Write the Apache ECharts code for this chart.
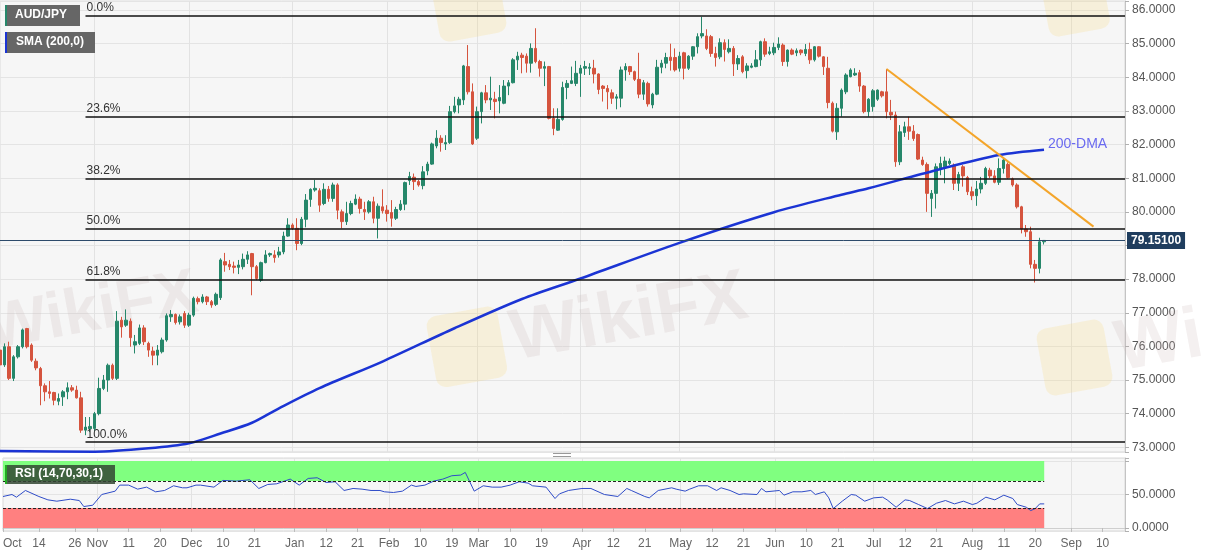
<!DOCTYPE html>
<html><head><meta charset="utf-8">
<script src="https://cdn.jsdelivr.net/npm/echarts@6/dist/echarts.min.js"></script>
<style>html,body{margin:0;padding:0;background:#fff;}#c{width:1207px;height:555px;}</style>
</head><body><div id="c"></div>
<script>
// ---- OHLC data per month: [open, close, low, high] ----
const ohlcOct2020 = [
[75.89,75.45,75.00,76.00],[75.45,75.99,75.39,76.09],[75.99,75.05,75.00,76.14],[75.05,75.69,74.97,75.74],[75.69,75.99,75.64,76.04],
[75.99,76.49,75.94,76.53],[76.53,75.99,75.94,76.55],[76.04,75.59,75.54,76.09],[75.56,75.36,75.29,75.64],[75.34,74.83,74.25,75.39],
[74.83,74.65,74.37,74.90],[74.65,74.60,74.45,74.97],[74.63,74.40,74.25,74.65],[74.37,74.45,74.25,74.60],[74.50,74.65,74.23,74.70],
[74.65,74.77,74.43,74.93],[74.77,74.70,74.65,74.85],[74.70,74.47,74.45,74.83],[74.47,73.51,73.43,74.65],[73.51,73.60,73.36,73.90],
[73.55,73.62,73.45,73.90]];
const ohlcNov2020 = [
[73.56,74.00,73.48,74.05],[74.00,74.75,73.95,75.07],[74.75,75.00,74.70,75.15],[75.00,75.44,74.65,75.49],[75.44,75.05,75.00,75.49],
[75.05,76.75,75.00,77.05],[76.78,76.58,76.26,76.88],[76.63,76.78,76.58,77.10],[76.75,76.26,75.99,76.83],[76.04,76.14,75.79,76.34],
[76.09,76.55,76.04,76.65],[76.55,76.14,76.04,76.63],[76.09,75.89,75.69,76.14],[75.86,75.74,75.44,75.99],[75.74,75.89,75.44,76.04],
[75.84,76.19,75.79,76.26],[76.19,76.91,76.14,76.98],[76.88,76.95,76.73,77.08],[76.95,76.71,76.65,76.98],[76.73,76.88,76.65,76.95],
[76.98,76.63,76.55,77.05]];
const ohlcDec2020 = [
[76.63,76.93,76.58,77.00],[76.93,77.43,76.88,77.48],[77.42,77.33,77.25,77.48],[77.33,77.47,77.28,77.55],[77.47,77.33,77.23,77.50],
[77.33,77.23,77.15,77.38],[77.25,77.55,77.20,77.60],[77.45,78.57,77.38,78.62],[78.52,78.42,78.22,78.78],[78.44,78.37,78.27,78.57],
[78.39,78.35,78.17,78.52],[78.35,78.42,78.15,78.57],[78.37,78.59,78.29,78.76],[78.59,78.72,78.45,78.83],[78.76,78.37,77.52,78.78],
[78.37,78.02,77.97,78.42],[77.97,78.49,77.92,78.52],[78.49,78.72,78.47,78.86],[78.72,78.76,78.66,78.79],[78.72,78.64,78.49,78.86],
[78.72,78.81,78.64,78.96],[78.81,79.28,78.74,79.41],[79.28,79.61,79.26,79.81]];
const ohlcJan2021 = [
[79.61,79.51,79.46,79.66],[79.51,79.06,78.86,79.81],[79.06,79.78,79.01,79.85],[79.78,80.35,79.54,80.53],[80.37,80.67,80.15,80.70],
[80.65,80.70,80.60,80.95],[80.63,80.20,80.00,80.70],[80.25,80.67,80.20,80.85],[80.67,80.40,80.30,80.77],[80.40,80.80,80.30,80.87],
[80.80,80.05,79.78,80.85],[80.00,79.71,79.51,80.07],[79.71,79.95,79.61,80.30],[79.95,80.25,79.90,80.33],[80.23,80.38,80.20,80.52],
[80.38,80.10,79.95,80.45],[80.07,80.00,79.76,80.30],[80.00,80.30,79.95,80.35],[80.30,79.81,79.66,80.45],[79.81,80.17,79.21,80.25],
[80.15,80.03,79.95,80.67]];
const ohlcFeb2021 = [
[80.05,79.95,79.71,80.20],[79.98,79.81,79.56,80.35],[79.81,80.07,79.76,80.15],[80.07,80.23,80.03,80.35],[80.23,80.87,80.05,80.90],
[80.93,81.05,80.80,81.19],[81.03,80.90,80.65,81.14],[80.90,80.80,80.75,80.95],[80.78,81.19,80.67,81.36],[81.22,81.42,81.09,81.49],
[81.42,82.02,81.40,82.06],[81.96,82.19,81.89,82.43],[82.19,82.06,81.79,82.28],[82.02,82.06,81.84,82.28],[82.06,82.98,82.02,83.15],
[82.98,83.15,82.93,83.42],[83.18,83.35,82.93,83.42],[83.33,84.34,83.18,84.37],[84.32,83.57,83.49,84.96],[83.57,82.02,81.99,83.82]];
const ohlcMar2021 = [
[82.19,82.98,82.14,83.13],[82.98,83.54,82.63,83.57],[83.54,83.33,83.23,83.77],[83.33,83.38,83.03,84.02],[83.35,83.28,82.78,83.57],
[83.30,83.40,82.93,83.77],[83.23,83.74,83.20,83.92],[83.74,83.84,83.47,83.92],[83.84,84.52,83.82,84.57],[84.52,84.63,84.22,84.76],
[84.66,84.59,84.12,84.73],[84.63,84.42,84.14,84.71],[84.42,84.86,84.14,85.01],[84.86,84.47,84.42,85.46],[84.47,84.27,84.02,84.52],
[84.27,84.32,83.74,84.47],[84.32,82.78,82.75,84.34],[82.78,82.48,82.28,83.08],[82.43,82.75,82.41,83.08],[82.75,83.70,82.71,83.87],
[83.70,83.82,83.35,83.92],[83.82,83.90,83.80,84.32],[83.82,84.12,83.74,84.49]];
const ohlcApr2021 = [
[84.12,84.27,83.42,84.37],[84.27,84.32,84.07,84.49],[84.27,84.30,84.07,84.42],[84.27,84.10,83.82,84.52],[84.10,83.64,83.50,84.12],
[83.74,83.67,83.28,83.77],[83.67,83.57,83.05,83.77],[83.54,83.38,83.21,83.64],[83.38,83.42,83.05,83.50],[83.38,84.22,83.11,84.32],
[84.22,84.32,83.90,84.42],[84.32,84.17,84.07,84.34],[84.17,83.94,83.89,84.20],[83.94,83.50,83.38,84.73],[83.50,83.84,83.33,83.92],
[83.82,83.21,83.13,83.87],[83.18,83.50,83.08,83.54],[83.50,84.30,83.47,84.52],[84.30,84.42,84.12,84.52],[84.42,84.59,84.27,84.73],
[84.60,84.50,84.20,85.00],[84.59,84.22,84.17,84.86]];
const ohlcMay2021 = [
[84.27,84.63,84.17,84.76],[84.73,84.27,83.94,84.76],[84.27,84.63,84.22,84.66],[84.63,84.91,84.52,84.93],[84.91,85.21,84.71,85.31],
[85.23,85.30,85.16,85.80],[85.23,84.86,84.81,85.43],[85.21,84.71,84.61,85.26],[84.71,84.59,84.32,84.91],[84.61,85.03,84.54,85.16],
[85.03,84.83,84.47,85.13],[84.76,84.86,84.71,85.13],[84.86,84.40,84.04,84.93],[84.40,84.56,84.22,84.66],[84.61,84.17,84.12,84.66],
[84.20,84.34,83.97,84.42],[84.30,84.34,84.27,84.42],[84.32,84.52,84.30,84.81],[84.52,85.06,84.34,85.09],[85.06,84.69,84.61,85.16],
[84.71,84.76,84.66,84.91]];
const ohlcJun2021 = [
[84.73,84.89,84.66,85.03],[84.89,84.99,84.81,85.19],[84.96,84.47,84.34,85.01],[84.47,84.81,84.32,84.83],[84.81,84.69,84.66,84.86],
[84.73,84.79,84.63,84.86],[84.81,84.73,84.66,84.83],[84.71,84.83,84.63,84.99],[84.83,84.52,84.40,85.03],[84.52,84.91,84.47,84.93],
[84.91,84.63,84.59,84.93],[84.61,84.32,84.07,84.63],[84.27,83.25,83.08,84.61],[83.23,82.40,82.36,83.28],[82.38,83.08,82.14,83.23],
[83.08,83.62,82.83,83.67],[83.57,84.07,83.50,84.12],[84.02,84.22,84.00,84.27],[84.07,84.12,84.04,84.27],[84.14,83.74,83.57,84.22],
[83.74,82.98,82.93,83.77],[82.98,83.35,82.83,83.38]];
const ohlcJul2021 = [
[83.13,83.60,82.98,83.65],[83.35,83.62,83.30,83.64],[83.57,83.45,83.40,83.60],[83.57,82.98,82.78,84.25],[82.96,82.88,82.73,83.33],
[82.88,81.49,81.34,82.98],[81.49,82.38,81.39,82.58],[82.36,82.53,82.23,82.68],[82.53,82.40,82.14,82.83],[82.40,82.18,82.11,82.58],
[82.30,81.57,81.54,82.33],[81.54,81.41,81.37,81.64],[81.41,80.55,80.00,81.47],[80.40,80.55,79.85,80.65],[80.55,81.34,80.10,81.44],
[81.29,81.44,81.09,81.64],[81.34,81.51,80.85,81.64],[81.44,81.51,81.39,81.59],[81.39,80.85,80.65,81.44],[80.85,81.11,80.62,81.19],
[81.34,81.07,80.75,81.39],[81.02,80.60,80.50,81.07]];
const ohlcAug2021 = [
[80.60,80.48,80.35,80.75],[80.48,80.68,80.18,80.92],[80.68,80.85,80.55,81.04],[80.85,81.29,80.80,81.34],[81.24,81.07,81.00,81.31],
[81.07,80.88,80.85,81.24],[80.88,81.29,80.80,81.59],[81.29,81.54,81.14,81.59],[81.41,81.02,80.98,81.47],[80.98,80.80,80.75,81.02],
[80.80,80.15,80.10,80.85],[80.15,79.49,79.36,80.18],[79.49,79.41,79.26,79.61],[79.41,78.44,78.32,79.56],[78.44,78.32,77.90,78.57],
[78.32,79.11,78.17,79.23],[79.11,79.151,79.03,79.16]];

// 200-day SMA: [trading-day index, value]
const sma200 = [[0,72.89],[21,72.87],[33,72.97],[42,73.12],[49,73.41],[56,73.73],[62,74.16],[71,74.76],[85,75.55],
[101,76.54],[116,77.41],[129,78.02],[151,79.08],[172,79.99],[187,80.51],[193,80.70],[208,81.24],[222,81.69],[232,81.85]];

// RSI(14): [trading-day index, value]
const rsi14 = [[0,47],[2,50],[3,46],[5,56],[8,47],[10,42],[12,40],[15,43],[17,41],[18,32],[20,34],[22,50],[25,55],[26,64],
[28,64],[30,58],[32,61],[34,54],[36,56],[38,63],[40,60],[41,60],[43,64],[44,64],[47,61],[49,71],[52,70],[55,72],[57,59],
[59,65],[61,66],[64,73],[66,64],[68,74],[70,75],[72,68],[74,69],[76,56],[78,59],[80,58],[82,56],[84,56],[85,54],[87,53],
[89,55],[91,64],[92,62],[94,64],[96,70],[98,73],[100,78],[102,79],[103,83],[105,55],[107,63],[109,61],[111,61],[113,64],
[115,69],[117,67],[118,63],[121,61],[123,44],[124,51],[126,56],[129,59],[131,59],[134,50],[137,47],[139,59],[140,56],
[143,47],[144,45],[146,56],[149,60],[150,58],[152,55],[153,58],[155,63],[157,63],[159,56],[160,60],[162,56],[164,50],
[165,51],[168,50],[169,59],[170,54],[173,56],[174,49],[176,54],[178,54],[180,56],[181,50],[183,54],[184,45],[185,29],
[187,40],[189,50],[190,49],[192,40],[194,45],[196,46],[197,42],[199,31],[201,42],[202,41],[204,35],[206,29],[208,37],
[210,41],[212,36],[214,40],[216,35],[217,37],[219,46],[221,42],[223,49],[225,44],[226,35],[228,31],[229,26],[230,29],
[231,36],[232,36]];

// Fibonacci retracement levels
const fibLabels = ['0.0%','23.6%','38.2%','50.0%','61.8%','100.0%'];
const fibValues = [85.82,82.83,80.98,79.49,77.99,73.15];
const fibStartDate = '2020-10-29';

// Falling trend line endpoints [date, value]
const trendLine = [['2021-07-06',84.25],['2021-09-08',79.56]];
const lastPrice = 79.151;

// x axis tick labels
const tickLabels = [['2020-10-02','Oct'],['2020-10-14','14'],['2020-10-26','26'],['2020-11-02','Nov'],['2020-11-11','11'],
['2020-11-20','20'],['2020-12-01','Dec'],['2020-12-10','10'],['2020-12-21','21'],['2021-01-01','Jan'],['2021-01-12','12'],
['2021-01-21','21'],['2021-02-01','Feb'],['2021-02-10','10'],['2021-02-19','19'],['2021-03-01','Mar'],['2021-03-10','10'],
['2021-03-19','19'],['2021-04-01','Apr'],['2021-04-12','12'],['2021-04-21','21'],['2021-05-03','May'],['2021-05-12','12'],
['2021-05-21','21'],['2021-06-01','Jun'],['2021-06-10','10'],['2021-06-21','21'],['2021-07-01','Jul'],['2021-07-12','12'],
['2021-07-21','21'],['2021-08-02','Aug'],['2021-08-11','11'],['2021-08-20','20'],['2021-09-01','Sep'],['2021-09-10','10']];
const monthStarts = ['2020-11-02','2020-12-01','2021-01-01','2021-02-01','2021-03-01','2021-04-01','2021-05-03',
'2021-06-01','2021-07-01','2021-08-02','2021-09-01'];

// ---- build categories (weekdays) ----
const categories = [];
(function(){
  const d = new Date(Date.UTC(2020,9,2));
  while (categories.length < 251) {
    const w = d.getUTCDay();
    if (w !== 0 && w !== 6) categories.push(d.toISOString().slice(0,10));
    d.setUTCDate(d.getUTCDate()+1);
  }
})();
const candles = [].concat(ohlcOct2020, ohlcNov2020, ohlcDec2020, ohlcJan2021, ohlcFeb2021, ohlcMar2021,
  ohlcApr2021, ohlcMay2021, ohlcJun2021, ohlcJul2021, ohlcAug2021);
const lastCat = categories[candles.length-1];
const endCat = categories[categories.length-1];
const tickMap = Object.fromEntries(tickLabels);
const monthSet = new Set(monthStarts);

const GREEN = '#26876a', RED = '#d5543e';
const FONT = 'Liberation Sans, Arial, sans-serif';

const chart = echarts.init(document.getElementById('c'), null, {renderer:'canvas'});

const fibMarks = fibValues.map((v,k) => [
  {coord:[fibStartDate, v], name: fibLabels[k]},
  {coord:[endCat, v]}
]);

const WM = 'rgba(200,180,180,0.2)', WMY = 'rgba(250,215,110,0.2)';

const option = {
  animation: false,
  backgroundColor: '#ffffff',
  textStyle: {fontFamily: FONT},
  grid: [
    {left:0, top:1, width:1125, height:451, show:true, backgroundColor:'#f6f6f6', borderColor:'#d9d9d9', borderWidth:1},
    {left:0, top:458, width:1125, height:73, show:true, backgroundColor:'#f6f6f6', borderColor:'#d9d9d9', borderWidth:1}
  ],
  xAxis: [
    {type:'category', gridIndex:0, data:categories, boundaryGap:false,
     axisLine:{show:false}, axisTick:{show:false}, axisLabel:{show:false},
     splitLine:{show:true, interval:(i,v)=>monthSet.has(v), lineStyle:{color:'#e2e2e2', width:1}}},
    {type:'category', gridIndex:1, data:categories, boundaryGap:false,
     axisLine:{show:true, lineStyle:{color:'#cfcfcf'}},
     axisTick:{show:true, interval:(i,v)=>tickMap[v]!==undefined, length:4, lineStyle:{color:'#bdbdbd'}},
     axisLabel:{show:true, interval:(i,v)=>tickMap[v]!==undefined, formatter:v=>tickMap[v]||'',
       color:'#666', fontSize:12, fontFamily:FONT, margin:7, alignMinLabel:'left'},
     splitLine:{show:true, interval:(i,v)=>monthSet.has(v), lineStyle:{color:'#e2e2e2', width:1}}}
  ],
  yAxis: [
    {type:'value', gridIndex:0, position:'right', min:72.86, max:86.27, splitNumber:13,
     axisLine:{show:true, lineStyle:{color:'#c4c4c4'}},
     axisTick:{show:true, length:4, lineStyle:{color:'#b0b0b0'}},
     axisLabel:{color:'#555', fontSize:12, fontFamily:FONT, margin:7,
       formatter:v=>(Math.abs(v-Math.round(v))<1e-6 && Math.round(v)!==79)?v.toFixed(4):''},
     splitLine:{show:true, lineStyle:{color:'#e4e4e4'}}},
    {type:'value', gridIndex:1, position:'right', min:-4.5, max:104.5, splitNumber:2,
     axisLine:{show:true, lineStyle:{color:'#c4c4c4'}},
     axisTick:{show:true, length:4, lineStyle:{color:'#b0b0b0'}},
     axisLabel:{color:'#555', fontSize:12, fontFamily:FONT, margin:7,
       formatter:v=>(v===0||v===50)?v.toFixed(4):''},
     splitLine:{show:true, lineStyle:{color:'#e4e4e4'}}}
  ],
  series: [
    {type:'candlestick', xAxisIndex:0, yAxisIndex:0, data:candles, barWidth:3, silent:true,
     itemStyle:{color:GREEN, color0:RED, borderColor:GREEN, borderColor0:RED, borderWidth:1},
     markLine:{silent:true, symbol:['none','none'], animation:false,
       data: fibMarks.concat([[
         {coord:[categories[0], lastPrice], name:'price',
          lineStyle:{color:'#2d4b6b', width:1, type:'solid'},
          label:{show:true, position:'end', formatter:'79.15100', color:'#fff', fontWeight:'bold', fontSize:12,
                 backgroundColor:'#1f3d5e', padding:[3,4,2,4], distance:2, fontFamily:FONT}},
         {coord:[endCat, lastPrice]}
       ]]),
       lineStyle:{color:'#111', width:1.5, type:'solid'},
       label:{show:true, position:'insideStartTop', formatter:p=>p.name, color:'#333', fontSize:12, distance:[1,2], fontFamily:FONT}
     }},
    {type:'line', name:'SMA', xAxisIndex:0, yAxisIndex:0, data:sma200.map(p=>[categories[p[0]], p[1]]),
     smooth:0.3, symbol:'none', silent:true, lineStyle:{color:'#1b34d4', width:2.5}},
    {type:'line', name:'trend', xAxisIndex:0, yAxisIndex:0, data:trendLine, symbol:'none', silent:true,
     lineStyle:{color:'#f4a52a', width:2}},
    {type:'line', name:'RSI', xAxisIndex:1, yAxisIndex:1, data:rsi14.map(p=>[categories[p[0]], p[1]]),
     symbol:'none', silent:true, lineStyle:{color:'#2f4cc8', width:1},
     markArea:{silent:true, data:[
       [{coord:[categories[0],70], itemStyle:{color:'#80ff80'}},{coord:[lastCat,100]}],
       [{coord:[categories[0],0], itemStyle:{color:'#ff8080'}},{coord:[lastCat,30]}]
     ]},
     markLine:{silent:true, symbol:['none','none'], label:{show:false},
       lineStyle:{color:'#222', width:1, type:[3,2]},
       data:[[{coord:[categories[0],70]},{coord:[lastCat,70]}],[{coord:[categories[0],30]},{coord:[lastCat,30]}]]}
    }
  ],
  graphic: [
    // watermarks
    {type:'text', left:-18, top:262, rotation:0.18, silent:true, z:1,
     style:{text:'WikiFX', font:'bold 64px '+FONT, fill:WM}},
    {type:'text', left:505, top:262, rotation:0.18, silent:true, z:1,
     style:{text:'WikiFX', font:'bold 72px '+FONT, fill:WM}},
    {type:'rect', left:425, top:305, rotation:0.18, silent:true, z:1,
     shape:{width:72, height:72, r:10}, style:{fill:WMY}},
    {type:'rect', left:1035, top:318, rotation:0.18, silent:true, z:1,
     shape:{width:68, height:68, r:10}, style:{fill:WMY}},
    {type:'rect', left:430, top:-30, rotation:0.18, silent:true, z:1,
     shape:{width:68, height:62, r:10}, style:{fill:WMY}},
    {type:'rect', left:1040, top:-30, rotation:0.18, silent:true, z:1,
     shape:{width:62, height:58, r:10}, style:{fill:WMY}},
    {type:'text', left:1110, top:300, rotation:0.18, silent:true, z:1,
     style:{text:'Wi', font:'bold 72px '+FONT, fill:WM}},
    // info boxes
    {type:'rect', z:100, shape:{x:5,y:5,width:75,height:21}, style:{fill:'#666'}},
    {type:'rect', z:101, shape:{x:5,y:5,width:2,height:21}, style:{fill:GREEN}},
    {type:'text', z:102, x:15, y:9, style:{text:'AUD/JPY', fill:'#fff', font:'bold 12px '+FONT}},
    {type:'rect', z:100, shape:{x:5,y:32,width:90,height:21}, style:{fill:'#666'}},
    {type:'rect', z:101, shape:{x:5,y:32,width:2,height:21}, style:{fill:'#1b34d4'}},
    {type:'text', z:102, x:16, y:36, style:{text:'SMA (200,0)', fill:'#fff', font:'bold 12px '+FONT}},
    {type:'rect', z:100, shape:{x:5,y:465,width:110,height:19}, style:{fill:'rgba(50,70,50,0.85)'}},
    {type:'rect', z:101, shape:{x:5,y:465,width:2,height:19}, style:{fill:'#22aa22'}},
    {type:'text', z:102, x:15, y:468, style:{text:'RSI (14,70,30,1)', fill:'#fff', font:'bold 12px '+FONT}},
    // 200-DMA label
    {type:'text', z:50, x:1048, y:137, style:{text:'200-DMA', fill:'#6a6af0', font:'14px '+FONT}},
    // pane separator
    {type:'line', z:50, shape:{x1:553,y1:453.5,x2:571,y2:453.5}, style:{stroke:'#999', lineWidth:1}},
    {type:'line', z:50, shape:{x1:553,y1:456.5,x2:571,y2:456.5}, style:{stroke:'#999', lineWidth:1}}
  ]
};
chart.setOption(option);
</script>
</body></html>
